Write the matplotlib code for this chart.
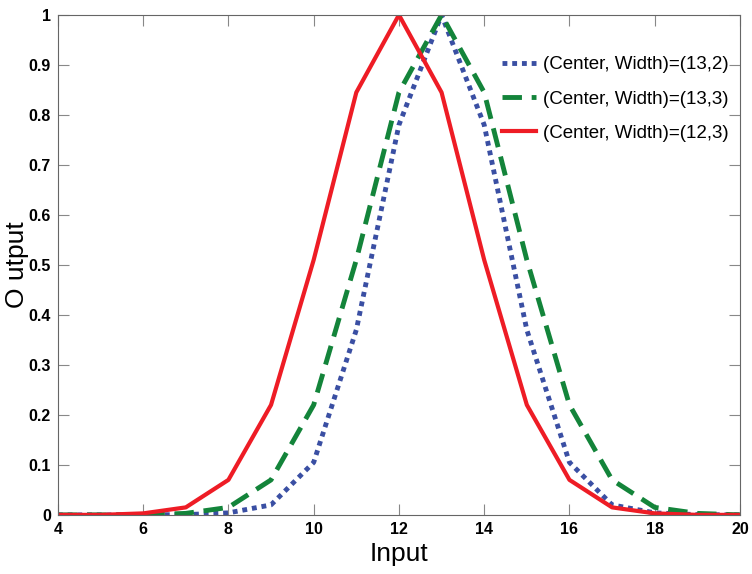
import matplotlib.pyplot as plt
import numpy as np

x = [4, 5, 6, 7, 8, 9, 10, 11, 12, 13, 14, 15, 16, 17, 18, 19, 20]
blue = [0, 0, 0, 0.0005, 0.004, 0.02, 0.105, 0.37, 0.78, 1.0, 0.78, 0.37, 0.105, 0.02, 0.004, 0.0005, 0]
green = [0, 0, 0, 0.003, 0.015, 0.07, 0.22, 0.51, 0.845, 1.0, 0.845, 0.51, 0.22, 0.07, 0.015, 0.003, 0]
red = [0, 0, 0.003, 0.015, 0.07, 0.22, 0.51, 0.845, 1.0, 0.845, 0.51, 0.22, 0.07, 0.015, 0.003, 0, 0]
labels = ["(Center, Width)=(13,2)", "(Center, Width)=(13,3)", "(Center, Width)=(12,3)"]

plt.rcParams['font.family'] = ['Liberation Sans Narrow', 'Liberation Sans', 'DejaVu Sans']

fig = plt.figure(figsize=(7.52, 5.74), dpi=100)
ax = fig.add_axes([0.077, 0.103, 0.907, 0.871])

ax.plot(x, blue, color="#3a4fa3", linestyle=(0, (1, 1)), linewidth=3.5, label=labels[0])
ax.plot(x, green, color="#13843a", linestyle=(0, (4, 2)), linewidth=3.5, label=labels[1])
ax.plot(x, red, color="#ee1c25", linestyle="-", linewidth=3, label=labels[2])

ax.set_xlim(4, 20)
ax.set_ylim(0, 1)
ax.set_xticks(np.arange(4, 21, 2))
ax.set_yticks(np.arange(0, 1.01, 0.1))
ax.set_yticklabels(["0", "0.1", "0.2", "0.3", "0.4", "0.5", "0.6", "0.7", "0.8", "0.9", "1"])
ax.tick_params(direction="in", top=True, right=True, color="#888888", length=8,
               labelsize=11.5, pad=5)
for lab in ax.get_xticklabels() + ax.get_yticklabels():
    lab.set_fontweight("bold")
for s in ax.spines.values():
    s.set_color("#666666")

ax.set_xlabel("Input", fontsize=19, labelpad=4)
ax.set_ylabel("O utput", fontsize=19)
ax.yaxis.set_label_coords(-0.043, 0.5)

ax.legend(loc="upper right", frameon=False, fontsize=13.5, handlelength=1.8,
          handletextpad=0.4, labelspacing=0.92, borderaxespad=0.2,
          bbox_to_anchor=(1.0, 0.94))

fig.savefig("out.png", dpi=100)
